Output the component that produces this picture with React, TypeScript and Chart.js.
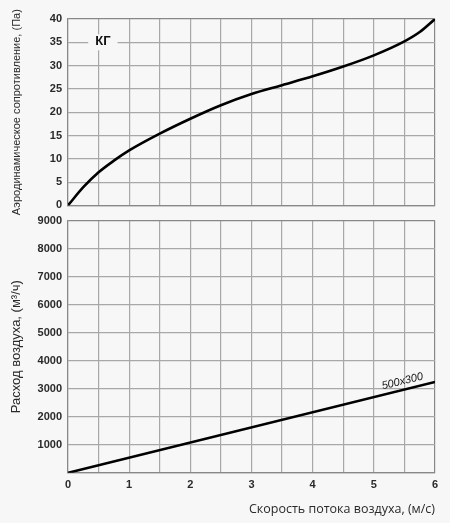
import React, { useEffect, useRef } from "react";
import { Chart, registerables } from "chart.js";

Chart.register(...registerables);

// ---- data ----
const velocityMin = 0;
const velocityMax = 6;
const velocityStep = 0.5;

const pressureVelocity = [0, 0.25, 0.5, 0.75, 1, 1.5, 2, 2.5, 3, 3.5, 4, 4.5, 5, 5.5, 5.75, 6];
const pressure = [0, 3.9, 7.1, 9.6, 11.8, 15.4, 18.6, 21.5, 23.9, 25.8, 27.7, 29.8, 32.2, 35.2, 37.2, 40];
const pressureMax = 40;
const pressureStep = 5;

const flowVelocity = [0, 6];
const flow = [0, 3240];
const flowMax = 9000;
const flowStep = 1000;

const pressureSeriesLabel = "КГ";
const pressureLabelAt = [0.57, 35];
const flowSeriesLabel = "500x300";
const flowLabelAtVelocity = 5.5;

const pressureTitle = "Аэродинамическое сопротивление, (Па)";
const flowTitle = "Расход воздуха, (м³/ч)";
const velocityTitle = "Скорость потока воздуха, (м/с)";

// ---- styles ----
const BG = "#f7f7f7";
const GRID = "#a8a8a8";
const EDGE = "#888888";
const TEXT = "#2a2a2a";
const FAMILY = "'Liberation Sans', Arial, sans-serif";
const tickFont = { family: FAMILY, size: 11, weight: "bold" as const };

function gridColor(max: number) {
  return (ctx: any) => (ctx.tick && ctx.tick.value === max ? EDGE : GRID);
}

const topLabelPlugin = {
  id: "topLabel",
  afterDatasetsDraw(chart: any) {
    const { ctx, scales } = chart;
    const x = scales.x.getPixelForValue(pressureLabelAt[0]);
    const y = scales.y.getPixelForValue(pressureLabelAt[1]);
    ctx.save();
    ctx.font = `bold 13px ${FAMILY}`;
    const w = ctx.measureText(pressureSeriesLabel).width;
    ctx.fillStyle = BG;
    ctx.fillRect(x - w / 2 - 7, y - 8, w + 14, 16);
    ctx.fillStyle = "#111";
    ctx.textAlign = "center";
    ctx.textBaseline = "middle";
    ctx.fillText(pressureSeriesLabel, x, y - 1);
    ctx.restore();
  },
};

const bottomLabelPlugin = {
  id: "bottomLabel",
  afterDatasetsDraw(chart: any) {
    const { ctx, scales } = chart;
    const x0 = scales.x.getPixelForValue(flowVelocity[0]);
    const y0 = scales.y.getPixelForValue(flow[0]);
    const x1 = scales.x.getPixelForValue(flowVelocity[1]);
    const y1 = scales.y.getPixelForValue(flow[1]);
    const angle = Math.atan2(y1 - y0, x1 - x0);
    const v = flowLabelAtVelocity;
    const f = flow[0] + ((flow[1] - flow[0]) * (v - flowVelocity[0])) / (flowVelocity[1] - flowVelocity[0]);
    const px = scales.x.getPixelForValue(v);
    const py = scales.y.getPixelForValue(f);
    ctx.save();
    ctx.translate(px, py);
    ctx.rotate(angle);
    ctx.font = `italic 11px ${FAMILY}`;
    ctx.fillStyle = "#111";
    ctx.textAlign = "center";
    ctx.textBaseline = "bottom";
    ctx.fillText(flowSeriesLabel, 0, -3);
    ctx.restore();
  },
};

function PressureChart() {
  const ref = useRef<HTMLCanvasElement | null>(null);
  useEffect(() => {
    if (!ref.current) return;
    const chart = new Chart(ref.current, {
      type: "line",
      data: {
        datasets: [
          {
            data: pressureVelocity.map((v, i) => ({ x: v, y: pressure[i] })),
            borderColor: "#000",
            borderWidth: 2.6,
            pointRadius: 0,
            cubicInterpolationMode: "monotone",
            fill: false,
          },
        ],
      },
      options: {
        animation: false,
        responsive: true,
        maintainAspectRatio: false,
        layout: { padding: { top: 19, right: 15, bottom: 4, left: 0 } },
        plugins: { legend: { display: false }, tooltip: { enabled: false } },
        scales: {
          x: {
            type: "linear",
            min: velocityMin,
            max: velocityMax,
            ticks: { stepSize: velocityStep, display: false },
            grid: { color: gridColor(velocityMax), drawTicks: false, lineWidth: 1.2 },
            border: { color: EDGE, width: 1.2 },
          },
          y: {
            type: "linear",
            min: 0,
            max: pressureMax,
            ticks: { stepSize: pressureStep, color: TEXT, font: tickFont, padding: 6 },
            grid: { color: gridColor(pressureMax), drawTicks: false, lineWidth: 1.2 },
            border: { color: EDGE, width: 1.2 },
            title: {
              display: true,
              text: pressureTitle,
              color: TEXT,
              font: { family: FAMILY, size: 11, weight: "normal" },
              padding: { top: 10, bottom: 0 },
            },
            afterFit: (s: any) => {
              s.width = 68;
            },
          },
        },
      },
      plugins: [topLabelPlugin],
    } as any);
    return () => chart.destroy();
  }, []);
  return <canvas ref={ref} />;
}

function FlowChart() {
  const ref = useRef<HTMLCanvasElement | null>(null);
  useEffect(() => {
    if (!ref.current) return;
    const chart = new Chart(ref.current, {
      type: "line",
      data: {
        datasets: [
          {
            data: flowVelocity.map((v, i) => ({ x: v, y: flow[i] })),
            borderColor: "#000",
            borderWidth: 2.6,
            pointRadius: 0,
            fill: false,
          },
        ],
      },
      options: {
        animation: false,
        responsive: true,
        maintainAspectRatio: false,
        layout: { padding: { top: 12, right: 15, bottom: 0, left: 0 } },
        plugins: { legend: { display: false }, tooltip: { enabled: false } },
        scales: {
          x: {
            type: "linear",
            min: velocityMin,
            max: velocityMax,
            ticks: {
              stepSize: velocityStep,
              color: TEXT,
              font: tickFont,
              padding: 6,
              maxRotation: 0,
              autoSkip: false,
              callback: (v: any) => (Number.isInteger(Number(v)) ? String(v) : ""),
            },
            grid: { color: gridColor(velocityMax), drawTicks: false, lineWidth: 1.2 },
            border: { color: EDGE, width: 1.2 },
            title: {
              display: true,
              text: velocityTitle,
              align: "end",
              color: TEXT,
              font: { family: "'Open Sans', sans-serif", size: 12.5, weight: "normal" },
              padding: { top: 4, bottom: 6 },
            },
          },
          y: {
            type: "linear",
            min: 0,
            max: flowMax,
            ticks: {
              stepSize: flowStep,
              color: TEXT,
              font: tickFont,
              padding: 6,
              callback: (v: any) => (Number(v) === 0 ? "" : String(v)),
            },
            grid: { color: gridColor(flowMax), drawTicks: false, lineWidth: 1.2 },
            border: { color: EDGE, width: 1.2 },
            title: {
              display: true,
              text: flowTitle,
              color: TEXT,
              font: { family: FAMILY, size: 13, weight: "normal" },
              padding: { top: 9, bottom: 0 },
            },
            afterFit: (s: any) => {
              s.width = 68;
            },
          },
        },
      },
      plugins: [bottomLabelPlugin],
    } as any);
    return () => chart.destroy();
  }, []);
  return <canvas ref={ref} />;
}

export default function App() {
  return (
    <div style={{ position: "fixed", left: 0, top: 0, width: 450, height: 523, background: BG, overflow: "hidden" }}>
      <div style={{ position: "absolute", left: 0, top: 0, width: 450, height: 218 }}>
        <PressureChart />
      </div>
      <div style={{ position: "absolute", left: 0, top: 208, width: 450, height: 315 }}>
        <FlowChart />
      </div>
    </div>
  );
}
